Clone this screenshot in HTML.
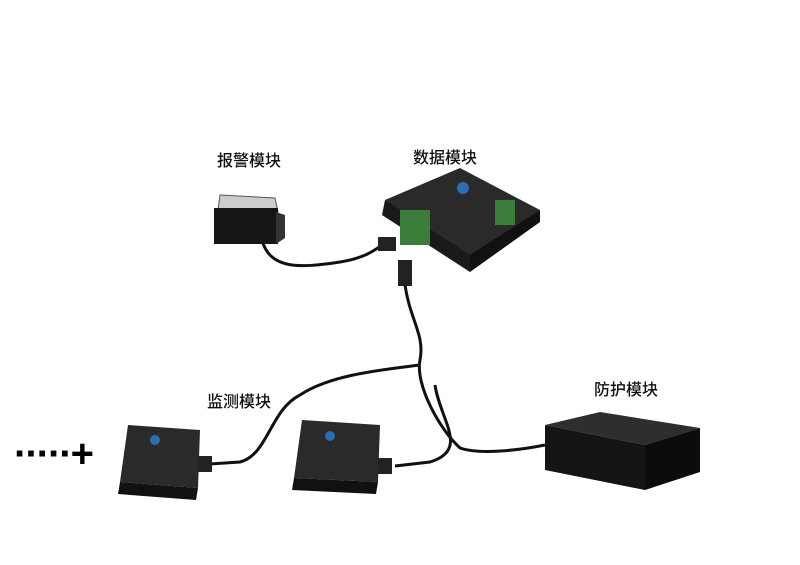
<!DOCTYPE html>
<html><head><meta charset="utf-8"><style>
html,body{margin:0;padding:0;background:#fff;}
body{width:800px;height:565px;position:relative;overflow:hidden;font-family:"Liberation Sans","Noto Sans CJK SC",sans-serif;}
.l{position:absolute;font-size:16px;color:#111;font-weight:500;}
</style></head><body>
<div class="l" style="left:217px;top:147px;">报警模块</div>
<div class="l" style="left:413px;top:144px;">数据模块</div>
<div class="l" style="left:207px;top:388px;">监测模块</div>
<div class="l" style="left:594px;top:376px;">防护模块</div>
<div style="position:absolute;left:14px;top:432px;font-size:40px;color:#000;letter-spacing:-2px;font-weight:bold;">·····+</div>
<svg width="800" height="565" style="position:absolute;left:0;top:0">
<g fill="none" stroke="#111" stroke-width="3">
<path d="M262 240 C270 270 300 268 340 262 C365 258 375 250 382 245"/>
<path d="M405 285 C410 320 425 335 420 360 C415 385 440 430 460 448 C480 455 520 450 545 445"/>
<path d="M420 365 C380 370 330 375 300 395 C270 410 268 455 240 462 L210 464"/>
<path d="M435 385 C440 420 470 450 430 462 L395 466"/>
</g>
<polygon points="220,195 275,198 278,212 218,210" fill="#ccc" stroke="#555"/>
<rect x="214" y="208" width="64" height="36" fill="#151515"/>
<polygon points="276,212 285,215 285,238 276,244" fill="#333"/>
<polygon points="385,200 460,168 540,210 470,265" fill="#2a2a2a"/>
<polygon points="385,200 470,255 470,272 382,215" fill="#1a1a1a"/>
<polygon points="470,255 540,210 540,222 470,272" fill="#111"/>
<rect x="400" y="210" width="30" height="35" fill="#3b7d3a"/>
<rect x="495" y="200" width="20" height="25" fill="#3b7d3a"/>
<circle cx="463" cy="188" r="6" fill="#2c6cb0"/>
<rect x="378" y="237" width="18" height="14" fill="#222"/>
<rect x="398" y="260" width="14" height="26" fill="#222"/>
<polygon points="128,425 200,430 198,488 120,482" fill="#2a2a2a"/>
<polygon points="120,482 198,488 196,500 118,494" fill="#111"/>
<circle cx="155" cy="440" r="5" fill="#2c6cb0"/>
<rect x="198" y="456" width="14" height="16" fill="#222"/>
<polygon points="302,420 380,425 378,482 294,478" fill="#2a2a2a"/>
<polygon points="294,478 378,482 376,494 292,490" fill="#111"/>
<circle cx="330" cy="436" r="5" fill="#2c6cb0"/>
<rect x="378" y="458" width="14" height="16" fill="#222"/>
<polygon points="545,425 600,412 700,428 645,445" fill="#2e2e2e"/>
<polygon points="545,425 645,445 645,490 545,470" fill="#141414"/>
<polygon points="645,445 700,428 700,472 645,490" fill="#0c0c0c"/>
</svg>
</body></html>
